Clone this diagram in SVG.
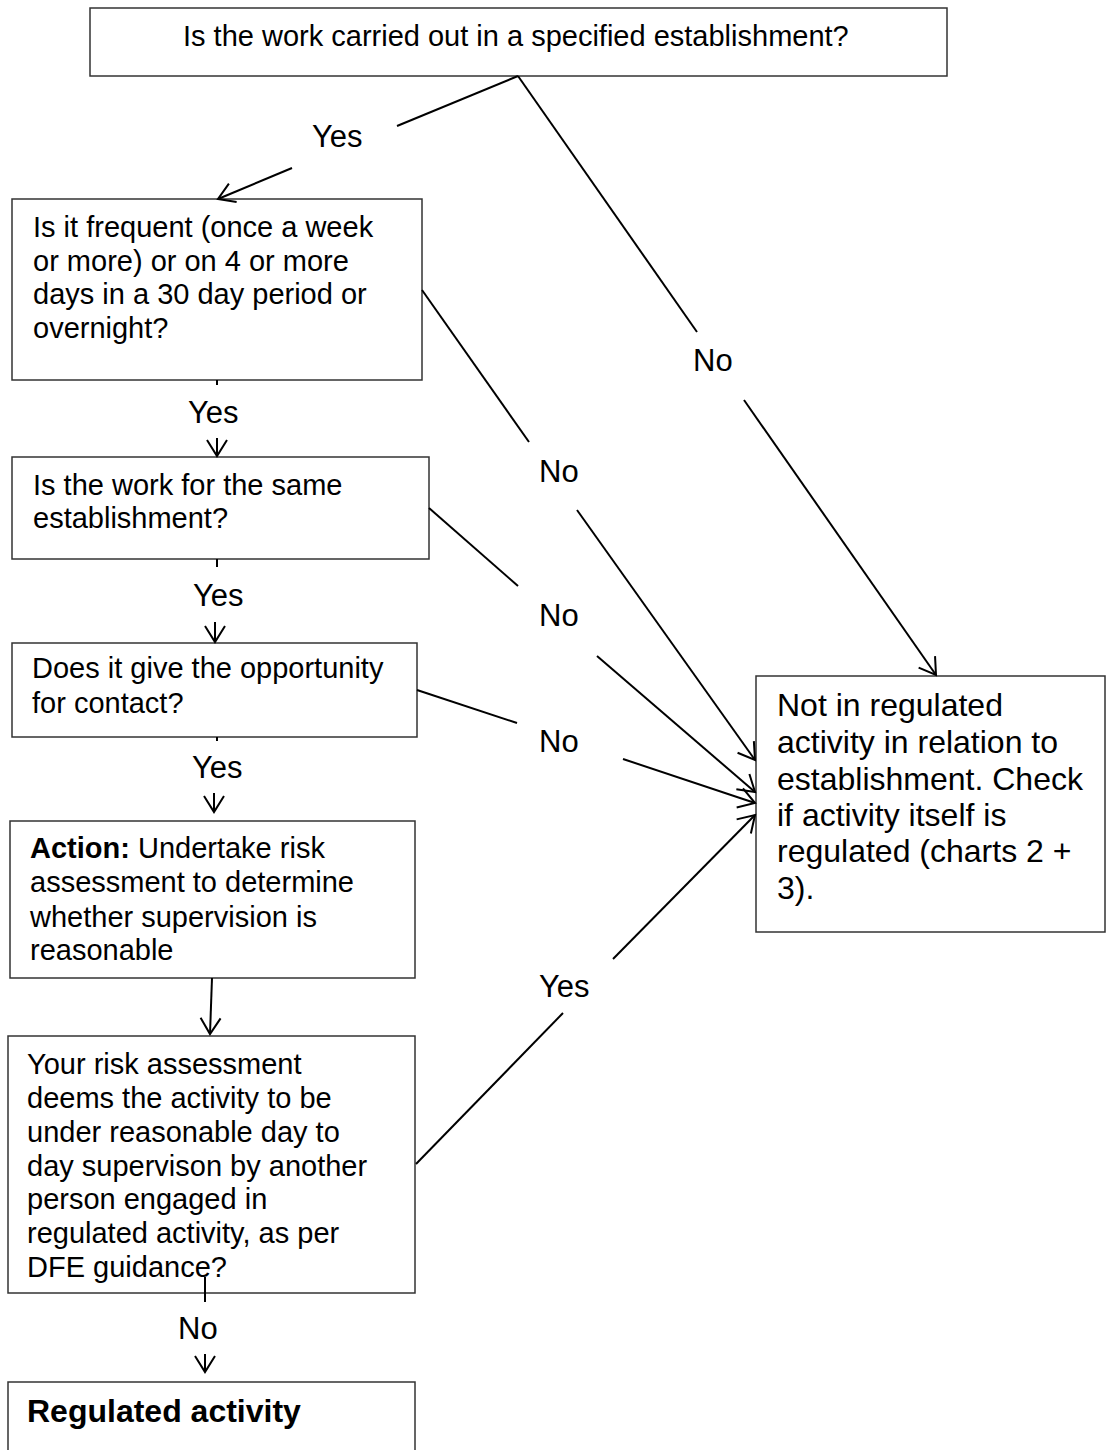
<svg xmlns="http://www.w3.org/2000/svg" width="1106" height="1450" viewBox="0 0 1106 1450">
<style>
.box{fill:#fff;stroke:#333;stroke-width:1.5}
.t{font-family:"Liberation Sans",Arial,sans-serif;font-size:29px;fill:#000}
.rt{font-family:"Liberation Sans",Arial,sans-serif;font-size:32px;fill:#000}
.lb{font-family:"Liberation Sans",Arial,sans-serif;font-size:31px;fill:#000}
.b{font-weight:bold}
.c{fill:none;stroke:#000;stroke-width:2}
.a{marker-end:url(#arr)}
</style>
<defs>
<marker id="arr" markerUnits="userSpaceOnUse" markerWidth="22" markerHeight="24" refX="18" refY="11" orient="auto" overflow="visible">
<path d="M2,1 L18,11 L2,21" fill="none" stroke="#000" stroke-width="2"/>
</marker>
</defs>
<g id="q1"><rect class="box" x="90" y="8" width="857" height="68"/><text class="t" x="183" y="46">Is the work carried out in a specified establishment?</text></g>
<g id="q2"><rect class="box" x="12" y="199" width="410" height="181"/><text class="t" x="33" y="237">Is it frequent (once a week</text><text class="t" x="33" y="271">or more) or on 4 or more</text><text class="t" x="33" y="304">days in a 30 day period or</text><text class="t" x="33" y="338">overnight?</text></g>
<g id="q3"><rect class="box" x="12" y="457" width="417" height="102"/><text class="t" x="33" y="495">Is the work for the same</text><text class="t" x="33" y="528">establishment?</text></g>
<g id="q4"><rect class="box" x="12" y="643" width="405" height="94"/><text class="t" x="32" y="678">Does it give the opportunity</text><text class="t" x="32" y="713">for contact?</text></g>
<g id="action"><rect class="box" x="10" y="821" width="405" height="157"/><text class="t" x="30" y="858"><tspan class="b">Action:</tspan> Undertake risk</text><text class="t" x="30" y="892">assessment to determine</text><text class="t" x="30" y="927">whether supervision is</text><text class="t" x="30" y="960">reasonable</text></g>
<g id="q5"><rect class="box" x="8" y="1036" width="407" height="257"/><text class="t" x="27" y="1074">Your risk assessment</text><text class="t" x="27" y="1108">deems the activity to be</text><text class="t" x="27" y="1142">under reasonable day to</text><text class="t" x="27" y="1176">day supervison by another</text><text class="t" x="27" y="1209">person engaged in</text><text class="t" x="27" y="1243">regulated activity, as per</text><text class="t" x="27" y="1277">DFE guidance?</text></g>
<g id="regulated"><rect class="box" x="8" y="1382" width="407" height="90"/><text class="t b" x="27" y="1422" style="font-size:32px">Regulated activity</text></g>
<g id="notregulated"><rect class="box" x="756" y="676" width="349" height="256"/><text class="rt" x="777" y="716">Not in regulated</text><text class="rt" x="777" y="753">activity in relation to</text><text class="rt" x="777" y="790">establishment. Check</text><text class="rt" x="777" y="826">if activity itself is</text><text class="rt" x="777" y="862">regulated (charts 2 +</text><text class="rt" x="777" y="899">3).</text></g>
<g id="connectors">
<line class="c" x1="518" y1="76" x2="397" y2="126"/><line class="c a" x1="292" y1="168" x2="218" y2="199"/>
<text class="lb" x="312" y="147">Yes</text>
<line class="c" x1="518" y1="76" x2="697" y2="332"/><line class="c a" x1="744" y1="400" x2="936" y2="675"/>
<text class="lb" x="693" y="371">No</text>
<line class="c" x1="217" y1="380" x2="217" y2="385"/><line class="c a" x1="217" y1="438" x2="217" y2="456"/>
<text class="lb" x="188" y="423">Yes</text>
<line class="c" x1="422" y1="290" x2="529" y2="442"/><line class="c a" x1="577" y1="510" x2="755" y2="760"/>
<text class="lb" x="539" y="482">No</text>
<line class="c" x1="217" y1="559" x2="217" y2="567"/><line class="c a" x1="215" y1="622" x2="215" y2="642"/>
<text class="lb" x="193" y="606">Yes</text>
<line class="c" x1="429" y1="508" x2="518" y2="586"/><line class="c a" x1="597" y1="656" x2="755" y2="792"/>
<text class="lb" x="539" y="626">No</text>
<line class="c" x1="217" y1="737" x2="217" y2="741"/><line class="c a" x1="214" y1="793" x2="214" y2="812"/>
<text class="lb" x="192" y="778">Yes</text>
<line class="c" x1="417" y1="690" x2="517" y2="723"/><line class="c a" x1="623" y1="759" x2="755" y2="803"/>
<text class="lb" x="539" y="752">No</text>
<line class="c a" x1="212" y1="978" x2="210" y2="1034"/>
<line class="c" x1="416" y1="1164" x2="563" y2="1013"/><line class="c a" x1="613" y1="959" x2="755" y2="815"/>
<text class="lb" x="539" y="997">Yes</text>
<line class="c" x1="205" y1="1277" x2="205" y2="1302"/><line class="c a" x1="205" y1="1354" x2="205" y2="1372"/>
<text class="lb" x="178" y="1339">No</text>
</g>
</svg>
